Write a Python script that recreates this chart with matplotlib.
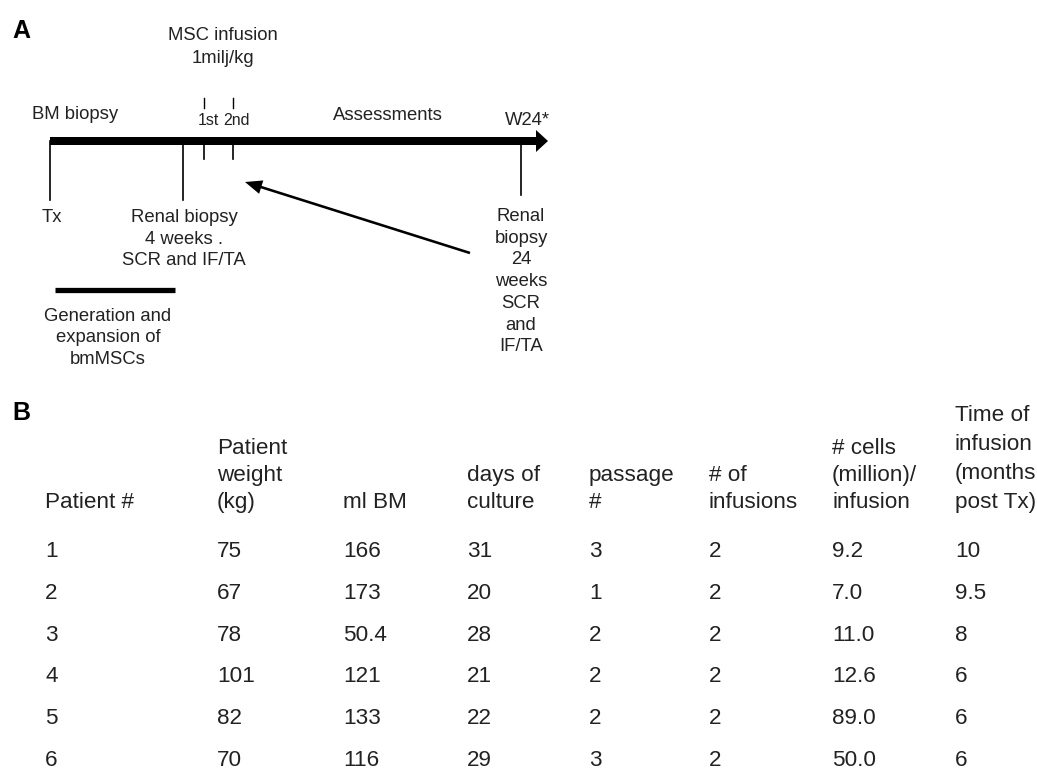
import matplotlib
matplotlib.use('Agg')
import matplotlib.pyplot as plt

plt.rcParams['font.family'] = ['Liberation Sans', 'DejaVu Sans']

# table data (panel B)
headers = [['Patient #'],
           ['Patient', 'weight', '(kg)'],
           ['ml BM'],
           ['days of', 'culture'],
           ['passage', '#'],
           ['# of', 'infusions'],
           ['# cells', '(million)/', 'infusion'],
           ['Time of', 'infusion', '(months', 'post Tx)']]
patient = ['1', '2', '3', '4', '5', '6']
weight = ['75', '67', '78', '101', '82', '70']
ml_bm = ['166', '173', '50.4', '121', '133', '116']
days_culture = ['31', '20', '28', '21', '22', '29']
passage = ['3', '1', '2', '2', '2', '3']
n_infusions = ['2', '2', '2', '2', '2', '2']
cells = ['9.2', '7.0', '11.0', '12.6', '89.0', '50.0']
time_infusion = ['10', '9.5', '8', '6', '6', '6']

# timeline labels (panel A)
top_labels = ['BM biopsy', 'Assessments', 'W24*']
dose_labels = ['1st', '2nd']
below_labels = [['Tx'], ['Renal biopsy', '4 weeks .', 'SCR and IF/TA'],
                ['Renal', 'biopsy', '24', 'weeks', 'SCR', 'and', 'IF/TA']]

W, H = 1037, 776
fig = plt.figure(figsize=(W / 100, H / 100), dpi=100)
ax = fig.add_axes([0, 0, 1, 1])
ax.set_xlim(0, W)
ax.set_ylim(H, 0)
ax.axis('off')

tc = '#222222'
fa = 13.3   # panel A font
fb = 16.2   # table font


def lines(x, y0, txt, gap, size, ha='center', **kw):
    for i, t in enumerate(txt):
        ax.text(x, y0 + i * gap, t, ha=ha, va='baseline', fontsize=size, color=tc, **kw)


# ---- panel A ----
ax.text(12, 38, 'A', fontsize=18, fontweight='bold', va='baseline', color='black')
lines(223, 40, ['MSC infusion', '1milj/kg'], 23, fa)

ax_y = 141
ax.arrow(50, ax_y, 498, 0, width=8, head_width=22, head_length=12,
         length_includes_head=True, color='black', lw=0)

ax.text(32, 119, top_labels[0], ha='left', va='baseline', fontsize=fa, color=tc)
ax.text(388, 120, top_labels[1], ha='center', va='baseline', fontsize=fa, color=tc)
ax.text(527, 125, top_labels[2], ha='center', va='baseline', fontsize=fa, color=tc)

# infusion ticks
for xd, lab in zip([204, 233], dose_labels):
    ax.plot([xd, xd], [98, 108], color='black', lw=1)
    ax.plot([xd, xd], [ax_y, 159], color='black', lw=1.2)
    ax.text(xd + 4, 125, lab, ha='center', va='baseline', fontsize=11.5, color=tc)

# event drop lines
for xe, ye in zip([50, 183, 521], [200, 200, 195]):
    ax.plot([xe, xe], [ax_y, ye], color='black', lw=1.2)

lines(52, 222, below_labels[0], 21.5, fa)
lines(184, 222, below_labels[1], 21.5, fa)
lines(521, 221, below_labels[2], 21.7, fa)

# back arrow from 24w biopsy
ax.arrow(470, 253, -225, -71, width=2.6, head_width=14, head_length=17,
         length_includes_head=True, color='black', lw=0)

# generation bar
ax.plot([55, 175], [290, 290], color='black', lw=3.8, solid_capstyle='butt')
lines(108, 321, ['Generation and', 'expansion of', 'bmMSCs'], 21.5, fa)

# ---- panel B ----
ax.text(12, 420, 'B', fontsize=18, fontweight='bold', va='baseline', color='black')

col_x = [45, 217, 343, 467, 589, 709, 832, 955]
head_base = 508
for cx, hd in zip(col_x, headers):
    gap = 29 if len(hd) == 4 else 27
    n = len(hd)
    lines(cx, head_base - (n - 1) * gap, hd, gap, fb, ha='left')

cols = [patient, weight, ml_bm, days_culture, passage, n_infusions, cells, time_infusion]
row0, row_gap = 557, 41.8
for cx, col in zip(col_x, cols):
    for i, v in enumerate(col):
        ax.text(cx, row0 + i * row_gap, v, ha='left', va='baseline', fontsize=fb, color=tc)

fig.savefig('out.png', dpi=100, facecolor='white')
